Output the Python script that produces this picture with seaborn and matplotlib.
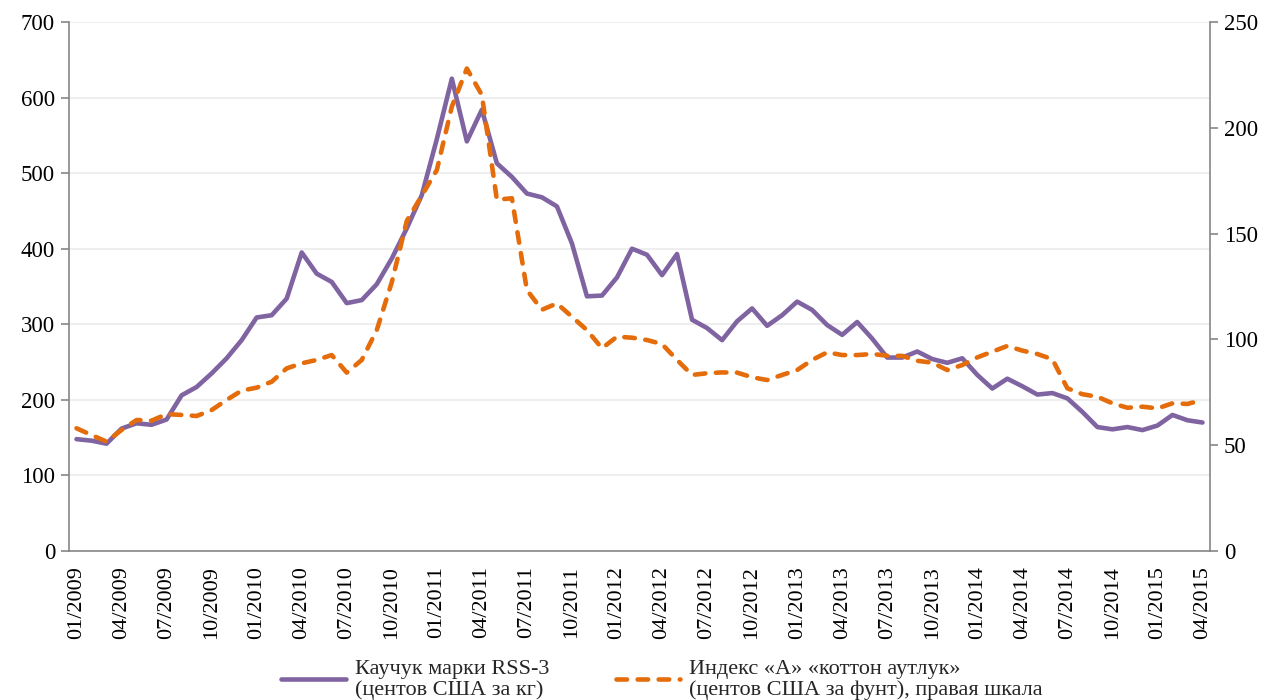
import matplotlib
matplotlib.use("Agg")
import matplotlib.pyplot as plt
import seaborn as sns
import pandas as pd
import numpy as np

# ---- data ----
months = [f"{m:02d}/{y}" for y in range(2009, 2016) for m in range(1, 13)][:76]

rubber = [148, 146, 142, 162, 169, 167, 174, 206, 217, 235, 255, 279,
          309, 312, 334, 395, 367, 356, 328, 332, 353, 387, 427, 471,
          545, 625, 542, 584, 513, 495, 473, 468, 456, 407, 337, 338,
          362, 400, 392, 365, 393, 306, 295, 279, 304, 321, 298, 312,
          330, 319, 299, 286, 303, 281, 256, 256, 264, 254, 249, 255,
          233, 215, 228, 218, 207, 209, 202, 184, 164, 161, 164, 160,
          166, 180, 173, 170]

cotton = [58.0, 54.8, 51.7, 57.2, 61.9, 61.6, 64.7, 64.3, 63.8, 66.6, 71.4, 75.8,
          77.2, 80.0, 86.3, 88.7, 90.3, 92.6, 84.3, 90.3, 104.4, 127.0, 156.0, 168.0,
          180.0, 210.0, 228.0, 215.5, 166.0, 166.7, 123.3, 114.0, 117.0, 110.7, 104.4, 95.8,
          101.3, 100.8, 99.7, 97.8, 90.3, 83.2, 84.0, 84.4, 84.3, 82.1, 80.8, 83.2,
          85.5, 90.3, 93.9, 92.6, 92.6, 93.1, 92.3, 92.2, 89.9, 89.0, 85.5, 87.9,
          91.5, 94.2, 96.9, 94.7, 93.1, 90.6, 76.9, 74.1, 72.9, 69.8, 67.7, 68.2,
          67.4, 69.8, 69.5, 71.4]

label_rubber = "Каучук марки RSS-3\n(центов США за кг)"
label_cotton = "Индекс «А» «коттон аутлук»\n(центов США за фунт), правая шкала"

left_ticks = list(range(0, 701, 100))
right_ticks = list(range(0, 251, 50))

# ---- style ----
sns.set_theme(style="white")
plt.rcParams['font.family'] = ['Liberation Serif', 'DejaVu Serif']
plt.rcParams['font.size'] = 16

purple = "#8064A2"
orange = "#E46C0A"
axis_gray = "#868686"

df = pd.DataFrame({"idx": np.arange(len(months)), "month": months,
                   "rubber": rubber, "cotton": cotton})

fig = plt.figure(figsize=(12.72, 7.0), dpi=100)
ax = fig.add_axes([69/1272, 1-551/700, (1210-69)/1272, (551-22)/700])
ax2 = ax.twinx()

sns.lineplot(data=df, x="idx", y="rubber", ax=ax, color=purple, linewidth=3.3,
             label=label_rubber, legend=False)
sns.lineplot(data=df, x="idx", y="cotton", ax=ax2, color=orange, linewidth=3.3,
             label=label_cotton, legend=False)
l2 = ax2.get_lines()[0]
l2.set_dashes((2.3, 2.3))
l2.set_dash_capstyle('round')
ax.get_lines()[0].set_solid_capstyle('round')

ax.set_xlim(-0.5, len(months) - 0.5)
ax.set_ylim(0, 700)
ax2.set_ylim(0, 250)
ax.set_yticks(left_ticks)
ax2.set_yticks(right_ticks)

ax.set_xticks(np.arange(0, len(months), 3))
ax.set_xticklabels([months[i] for i in range(0, len(months), 3)], rotation=90)
ax.set_xticks(np.arange(-0.5, len(months), 3), minor=True)
ax.tick_params(axis='x', which='major', length=0, pad=11, labelsize=16, colors='black')
ax.tick_params(axis='x', which='minor', length=6, width=1.2, color=axis_gray, direction='out')
ax.tick_params(axis='y', length=6, width=1.2, color=axis_gray, labelsize=16.5, labelcolor='black', pad=4)
ax2.tick_params(axis='y', length=6, width=1.2, color=axis_gray, labelsize=16.5, labelcolor='black', pad=4)

ax.yaxis.grid(True, color="#EEEEEE", linewidth=1.5)
ax.set_axisbelow(True)
ax.set_xlabel("")
ax.set_ylabel("")
ax2.set_ylabel("")
ax2.grid(False)

for a in (ax, ax2):
    a.spines['top'].set_visible(False)
    for s in ('left', 'right', 'bottom'):
        a.spines[s].set_color(axis_gray)
        a.spines[s].set_linewidth(1.2)
ax.spines['right'].set_visible(False)
ax2.spines['left'].set_visible(False)
ax2.spines['bottom'].set_visible(False)

h1, lab1 = ax.get_legend_handles_labels()
h2, lab2 = ax2.get_legend_handles_labels()
leg = fig.legend(h1 + h2, lab1 + lab2, loc='center', ncol=2, frameon=False,
                 bbox_to_anchor=(662/1272, 1-680/700), fontsize=16,
                 handlelength=2.9, handletextpad=0.4, columnspacing=3.0)
for t in leg.get_texts():
    t.set_linespacing(1.15)

fig.savefig("out.png", dpi=100)
